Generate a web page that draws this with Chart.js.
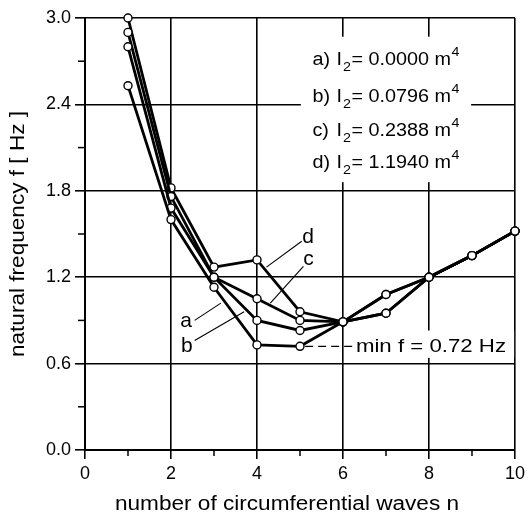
<!DOCTYPE html>
<html>
<head>
<meta charset="utf-8">
<script src="https://cdn.jsdelivr.net/npm/chart.js@4/dist/chart.umd.min.js"></script>
<style>
  html, body { margin: 0; padding: 0; background: #fff; }
  #wrap { width: 529px; height: 514px; }
</style>
</head>
<body>
<div id="wrap"><canvas id="c" width="529" height="514"></canvas></div>
<script>
// number of circumferential waves
const waves = [1, 2, 3, 4, 5, 6, 7, 8, 9, 10]
// natural frequency [Hz] per stiffener inertia
const freqA = [2.53, 1.60, 1.13, 0.73, 0.72, 0.89, 0.95, 1.20, 1.35, 1.52]
const freqB = [2.80, 1.68, 1.20, 0.90, 0.83, 0.89, 0.95, 1.20, 1.35, 1.52]
const freqC = [2.90, 1.76, 1.20, 1.05, 0.90, 0.89, 1.08, 1.20, 1.35, 1.52]
const freqD = [3.00, 1.82, 1.27, 1.32, 0.96, 0.89, 1.08, 1.20, 1.35, 1.52]

const curveNames = ["a", "b", "c", "d"]
const inertiaLabels = ["0.0000", "0.0796", "0.2388", "1.1940"]
const xTitle = "number of circumferential waves n"
const yTitle = "natural frequency f [ Hz ]"
const minText = "min f = 0.72 Hz"

const FONT = "'Liberation Sans', Arial, Helvetica, sans-serif"

function series(vals){
    return waves.map((n, i) => ({x: n, y: vals[i]}))
}

function lineSet(label, vals){
    return {
        label: label,
        data: series(vals),
        borderColor: "#000",
        borderWidth: 2.8,
        pointRadius: 4,
        pointBorderWidth: 1.4,
        pointBackgroundColor: "#fff",
        pointBorderColor: "#000",
        tension: 0,
        clip: false
    }
}

const isMajorY = v => Math.round(v * 10) % 6 === 0
const isMajorX = v => Math.round(v) % 2 === 0

// draw text slightly stretched sideways, like the scanned original
function wideText(ctx, s, x, y, stretch){
    ctx.save()
    ctx.translate(x, y)
    ctx.scale(stretch, 1)
    ctx.fillText(s, 0, 0)
    ctx.restore()
    return ctx.measureText(s).width * stretch
}

// white boxes, leader labels, legend text, minor ticks, axis titles
const annotations = {
    id: "annotations",
    beforeDatasetsDraw(chart){
        const ctx = chart.ctx
        const xs = chart.scales.x, ys = chart.scales.y
        ctx.save()
        ctx.fillStyle = "#fff"
        // legend block background
        let x1 = xs.getPixelForValue(5.02), x2 = xs.getPixelForValue(8.98)
        let y1 = ys.getPixelForValue(2.87), y2 = ys.getPixelForValue(1.86)
        ctx.fillRect(x1, y1, x2 - x1, y2 - y1)
        // min f label background
        x1 = xs.getPixelForValue(6.28); x2 = xs.getPixelForValue(9.98)
        y1 = ys.getPixelForValue(0.83); y2 = ys.getPixelForValue(0.64)
        ctx.fillRect(x1, y1, x2 - x1, y2 - y1)
        ctx.restore()
    },
    afterDatasetsDraw(chart){
        const ctx = chart.ctx
        const xs = chart.scales.x, ys = chart.scales.y
        const px = v => xs.getPixelForValue(v)
        const py = v => ys.getPixelForValue(v)
        ctx.save()
        ctx.fillStyle = "#000"
        ctx.strokeStyle = "#000"

        // leader lines and curve letters
        const leaders = [
            {t: "a", tx: 2.35, ty: 0.855, from: [2.55, 0.90], to: [3.16, 1.02]},
            {t: "b", tx: 2.37, ty: 0.68, from: [2.55, 0.76], to: [3.70, 0.96]},
            {t: "c", tx: 5.20, ty: 1.285, from: [5.08, 1.275], to: [4.31, 1.02]},
            {t: "d", tx: 5.19, ty: 1.44, from: [5.04, 1.45], to: [4.22, 1.27]}
        ]
        ctx.lineWidth = 1.1
        leaders.forEach(l => {
            ctx.beginPath()
            ctx.moveTo(px(l.from[0]), py(l.from[1]))
            ctx.lineTo(px(l.to[0]), py(l.to[1]))
            ctx.stroke()
        })
        ctx.font = "21px " + FONT
        ctx.textAlign = "center"
        ctx.textBaseline = "alphabetic"
        leaders.forEach(l => ctx.fillText(l.t, px(l.tx), py(l.ty)))

        // min f marker
        ctx.setLineDash([8, 5])
        ctx.lineWidth = 1.2
        ctx.beginPath()
        ctx.moveTo(px(5.12), py(0.72))
        ctx.lineTo(px(6.28), py(0.72))
        ctx.stroke()
        ctx.setLineDash([])
        ctx.textAlign = "left"
        ctx.font = "19px " + FONT
        wideText(ctx, minText, px(6.30), py(0.68), 1.17)

        // legend text: a) I2 = ... m4
        const rowBase = [2.675, 2.42, 2.18, 1.955]
        curveNames.forEach((nm, i) => {
            const base = py(rowBase[i])
            let x = px(5.29)
            ctx.font = "18px " + FONT
            wideText(ctx, nm + ")", x, base, 1.1)
            x = px(5.85)
            x += wideText(ctx, "I", x, base, 1.1) + 1
            ctx.font = "13px " + FONT
            x += wideText(ctx, "2", x, base + 6, 1.1) + 0.5
            ctx.font = "18px " + FONT
            x += wideText(ctx, "= " + inertiaLabels[i] + " m", x, base, 1.1) + 0.5
            ctx.font = "13px " + FONT
            wideText(ctx, "4", x, base - 9, 1.1)
        })

        // minor ticks (odd n, every 0.3 Hz)
        ctx.lineWidth = 1.5
        xs.ticks.forEach(t => {
            if(!isMajorX(t.value)){
                const x = px(t.value)
                ctx.beginPath()
                ctx.moveTo(x, ys.bottom)
                ctx.lineTo(x, ys.bottom + 6)
                ctx.stroke()
            }
        })
        ys.ticks.forEach(t => {
            if(!isMajorY(t.value)){
                const y = py(t.value)
                ctx.beginPath()
                ctx.moveTo(xs.left - 7, y)
                ctx.lineTo(xs.left, y)
                ctx.stroke()
            }
        })

        // axis titles
        ctx.font = "20px " + FONT
        ctx.textAlign = "center"
        wideText(ctx, xTitle, 287, 510, 1.13)
        ctx.translate(24, (chart.chartArea.top + chart.chartArea.bottom) / 2)
        ctx.rotate(-Math.PI / 2)
        wideText(ctx, yTitle, 0, 0, 1.13)
        ctx.restore()
    }
}

const canvas = document.getElementById("c")
const chart = new Chart(canvas, {
    type: "line",
    data: {
        datasets: [lineSet("a", freqA), lineSet("b", freqB), lineSet("c", freqC), lineSet("d", freqD)]
    },
    options: {
        responsive: false,
        animation: false,
        layout: {padding: {left: 0, top: 18, right: 12, bottom: 0}},
        plugins: {legend: {display: false}, tooltip: {enabled: false}},
        scales: {
            x: {
                type: "linear",
                min: 0, max: 10,
                afterFit: s => { s.height = 64 },
                border: {display: true, color: "#000", width: 2},
                grid: {
                    color: c => isMajorX(c.tick.value) ? "#000" : "rgba(0,0,0,0)",
                    lineWidth: 1.6,
                    tickLength: 9,
                    tickColor: c => isMajorX(c.tick.value) ? "#000" : "rgba(0,0,0,0)"
                },
                ticks: {
                    stepSize: 1,
                    padding: 4,
                    color: "#000",
                    font: {family: FONT, size: 18},
                    maxRotation: 0,
                    callback: v => isMajorX(v) ? String(v) : ""
                }
            },
            y: {
                min: 0, max: 3,
                afterFit: s => { s.width = 85 },
                border: {display: true, color: "#000", width: 2},
                grid: {
                    color: c => isMajorY(c.tick.value) ? "#000" : "rgba(0,0,0,0)",
                    lineWidth: 1.6,
                    tickLength: 10,
                    tickColor: c => isMajorY(c.tick.value) ? "#000" : "rgba(0,0,0,0)"
                },
                ticks: {
                    stepSize: 0.3,
                    padding: 4,
                    color: "#000",
                    font: {family: FONT, size: 18},
                    callback: v => isMajorY(v) ? v.toFixed(1) : ""
                }
            }
        }
    },
    plugins: [annotations]
})
</script>
</body>
</html>
